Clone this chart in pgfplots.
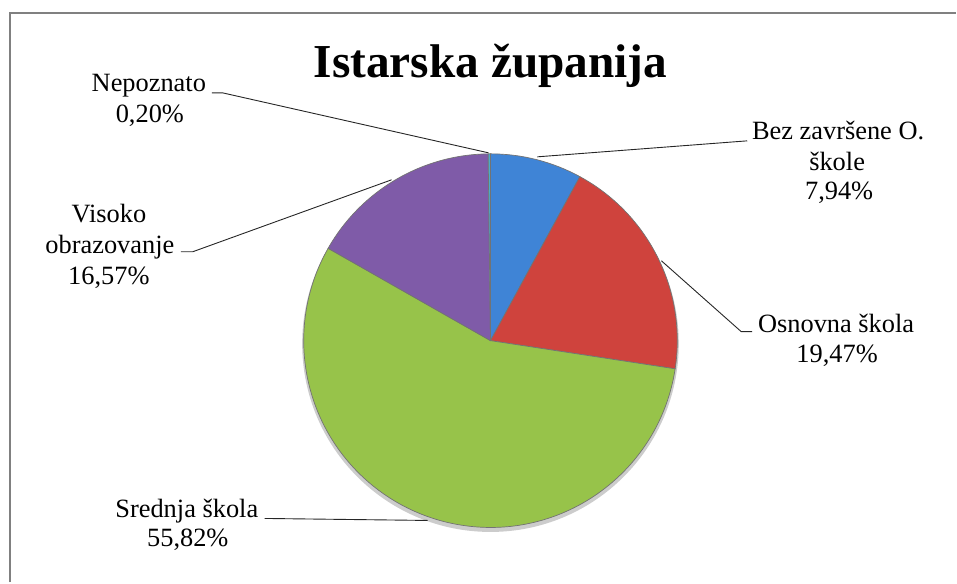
\documentclass[border=0pt]{standalone}
\usepackage{pgfplots}
\pgfplotsset{compat=1.18}
\usepackage{pgfplotstable}
\usepackage{fontspec}
\setmainfont{Liberation Serif}
\usetikzlibrary{fadings}
\definecolor{c0}{HTML}{3F84D6}
\definecolor{c1}{HTML}{CF433D}
\definecolor{c2}{HTML}{97C34A}
\definecolor{c3}{HTML}{7F5BA8}
\definecolor{c4}{HTML}{4BACC6}
\definecolor{frame}{HTML}{808080}
\pgfdeclareradialshading{rimshade}{\pgfpointorigin}{%
  color(0bp)=(pgftransparent!100); color(25bp)=(pgftransparent!100);
  color(42bp)=(pgftransparent!85); color(48bp)=(pgftransparent!70); color(50bp)=(pgftransparent!50)}
\pgfdeclarefading{rim}{\pgfuseshading{rimshade}}
\pgfplotstableread{
name value
Bez 7.94
Osn 19.47
Sre 55.82
Vis 16.57
Nep 0.20
}\piedata
\begin{document}
\begin{tikzpicture}
\begin{axis}[x=1bp, y=1bp, xmin=0, xmax=957, ymin=0, ymax=583,
  hide axis, clip=false, scale only axis]
\path (axis cs:0,0) rectangle (axis cs:957,583);
% frame
\draw[frame, line width=2bp] (axis cs:10,0) -- (axis cs:10,570) -- (axis cs:957,570);
% shadow
\fill[black!20] (axis cs:491,239) circle[radius=188.5bp];
% slices
\def\cum{0}
\pgfplotsforeachungrouped \i in {0,...,4}{%
  \pgfplotstablegetelem{\i}{value}\of\piedata
  \let\v=\pgfplotsretval
  \pgfmathsetmacro\a{90-3.6*\cum}
  \pgfmathsetmacro\b{90-3.6*(\cum+\v)}
  \edef\temp{\noexpand\fill[c\i, draw=black!55, line width=0.7bp] (axis cs:491,242) -- ++(\a:187bp) arc[start angle=\a, end angle=\b, radius=187bp] -- cycle;}
  \temp
  \pgfmathsetmacro\cum{\cum+\v}
}
% rim darkening
\fill[black, path fading=rim] (axis cs:491,242) circle[radius=187bp];
% labels
\tikzset{lab/.style={anchor=base, inner sep=0pt, font=\fontsize{26.5}{30}\selectfont}}
\node[anchor=base, inner sep=0pt, font=\fontsize{47.5}{52}\selectfont\bfseries] at (axis cs:491,505) {Istarska županija};
\node[lab] at (axis cs:149,491) {Nepoznato};
\node[lab] at (axis cs:150,460) {0,20\%};
\node[lab] at (axis cs:839,443) {Bez završene O.};
\node[lab] at (axis cs:838,412) {škole};
\node[lab] at (axis cs:840,383) {7,94\%};
\node[lab] at (axis cs:837,250) {Osnovna škola};
\node[lab] at (axis cs:838,220) {19,47\%};
\node[lab] at (axis cs:109,360) {Visoko};
\node[lab] at (axis cs:110,329) {obrazovanje};
\node[lab] at (axis cs:109,298) {16,57\%};
\node[lab] at (axis cs:187,65) {Srednja škola};
\node[lab] at (axis cs:188,36) {55,82\%};
% leader lines
\draw[black!85, line width=0.9bp] (axis cs:212,490) -- (axis cs:223,490) -- (axis cs:489,430);
\draw[black!85, line width=0.9bp] (axis cs:538,426) -- (axis cs:748,442);
\draw[black!85, line width=0.9bp] (axis cs:662,322) -- (axis cs:742,251) -- (axis cs:753,251);
\draw[black!85, line width=0.9bp] (axis cs:181,331) -- (axis cs:193,331) -- (axis cs:392,403);
\draw[black!85, line width=0.9bp] (axis cs:265,64) -- (axis cs:428,62);
\end{axis}
\end{tikzpicture}
\end{document}
